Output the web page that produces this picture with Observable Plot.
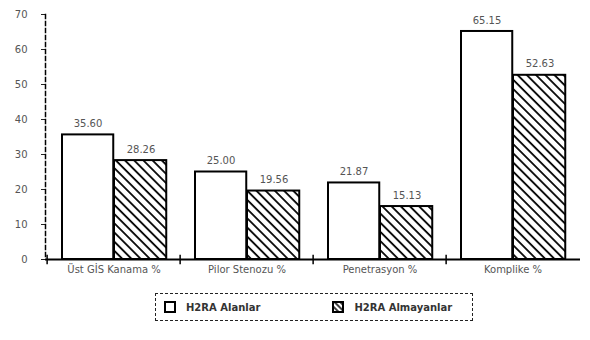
<!DOCTYPE html>
<html>
<head>
<meta charset="utf-8">
<script src="https://cdn.jsdelivr.net/npm/d3@7"></script>
<script src="https://cdn.jsdelivr.net/npm/@observablehq/plot@0.6"></script>
<style>
  body { margin: 0; background: #fff; font-family: "DejaVu Sans", sans-serif; }
  #chart { width: 590px; }
  .legend { position: relative; margin: 8px 0 0 155px; width: 318px; height: 28px;
    border: 1px dashed #222; box-sizing: border-box; display: flex; align-items: center;
    font-size: 10px; font-weight: bold; color: #333; }
  .legend .item { display: flex; align-items: center; }
  .legend svg { margin-right: 10px; }
</style>
</head>
<body>
<div id="chart"></div>
<script>
const categories = ["Üst GİS Kanama %", "Pilor Stenozu %", "Penetrasyon %", "Komplike %"];
const seriesNames = ["H2RA Alanlar", "H2RA Almayanlar"];
const alanlar = [35.60, 25.00, 21.87, 65.15];
const almayanlar = [28.26, 19.56, 15.13, 52.63];
const yTicks = [0, 10, 20, 30, 40, 50, 60, 70];

const rowsA = categories.map((c, i) => ({cat: c, v: alanlar[i]}));
const rowsB = categories.map((c, i) => ({cat: c, v: almayanlar[i]}));

const W = 590, H = 285, mL = 45, mR = 10;
const bw = (W - mL - mR) / categories.length;
const fmt = d => d.toFixed(2);

const plot = Plot.plot({
  width: W, height: H,
  marginLeft: mL, marginRight: mR, marginTop: 14, marginBottom: 26,
  style: {fontFamily: "DejaVu Sans, sans-serif", fontSize: "10px", color: "#444", background: "#fff"},
  x: {domain: categories, padding: 0, label: null},
  y: {domain: [0, 70], label: null},
  marks: [
    Plot.axisY({ticks: yTicks, tickSize: 4, tickPadding: 14, tickFormat: d => d, stroke: "#222", fill: "#555"}),
    Plot.axisX({tickSize: 0, tickPadding: 6, fill: "#555"}),
    Plot.barY(rowsA, {x: "cat", y: "v", fill: "#fff", stroke: "#000", strokeWidth: 2,
      insetLeft: 15, insetRight: bw - 15 - 52}),
    Plot.barY(rowsB, {x: "cat", y: "v", fill: "url(#hatch)", stroke: "#000", strokeWidth: 2,
      insetLeft: 67, insetRight: bw - 67 - 53}),
    Plot.text(rowsA, {x: "cat", y: "v", text: d => fmt(d.v), dx: -26, dy: -11, fill: "#555"}),
    Plot.text(rowsB, {x: "cat", y: "v", text: d => fmt(d.v), dx: 27, dy: -11, fill: "#555"}),
    Plot.ruleX(categories, {x: d => d, dx: -bw / 2, y1: -1.5, y2: 1.2, stroke: "#000", strokeWidth: 1.5}),
    Plot.ruleY([0], {stroke: "#000", strokeWidth: 2}),
    Plot.frame({anchor: "left", stroke: "#000", strokeWidth: 1.5, strokeDasharray: "4,3"})
  ]
});

const svg = d3.select(plot);
const defs = svg.insert("defs", ":first-child");
const pat = defs.append("pattern").attr("id", "hatch").attr("patternUnits", "userSpaceOnUse")
  .attr("width", 6.5).attr("height", 6.5).attr("patternTransform", "rotate(-45)");
pat.append("rect").attr("width", 6.5).attr("height", 6.5).attr("fill", "#fff");
pat.append("line").attr("x1", 1).attr("y1", 0).attr("x2", 1).attr("y2", 6.5)
  .attr("stroke", "#000").attr("stroke-width", 1.8);

document.getElementById("chart").appendChild(plot);

const legend = document.createElement("div");
legend.className = "legend";
const sw = (hatched) => `<svg width="12" height="12" viewBox="0 0 12 12">
  <defs><pattern id="lh" patternUnits="userSpaceOnUse" width="4" height="4" patternTransform="rotate(-45)">
  <rect width="4" height="4" fill="#fff"/><line x1="1" y1="0" x2="1" y2="4" stroke="#000" stroke-width="1.5"/></pattern></defs>
  <rect x="1" y="1" width="10" height="10" fill="${hatched ? "url(#lh)" : "#fff"}" stroke="#000" stroke-width="2"/></svg>`;
legend.innerHTML = `<div class="item" style="margin-left:8px">${sw(false)}<span>${seriesNames[0]}</span></div>
  <div class="item" style="margin-left:72px">${sw(true)}<span>${seriesNames[1]}</span></div>`;
document.getElementById("chart").appendChild(legend);
</script>
</body>
</html>
